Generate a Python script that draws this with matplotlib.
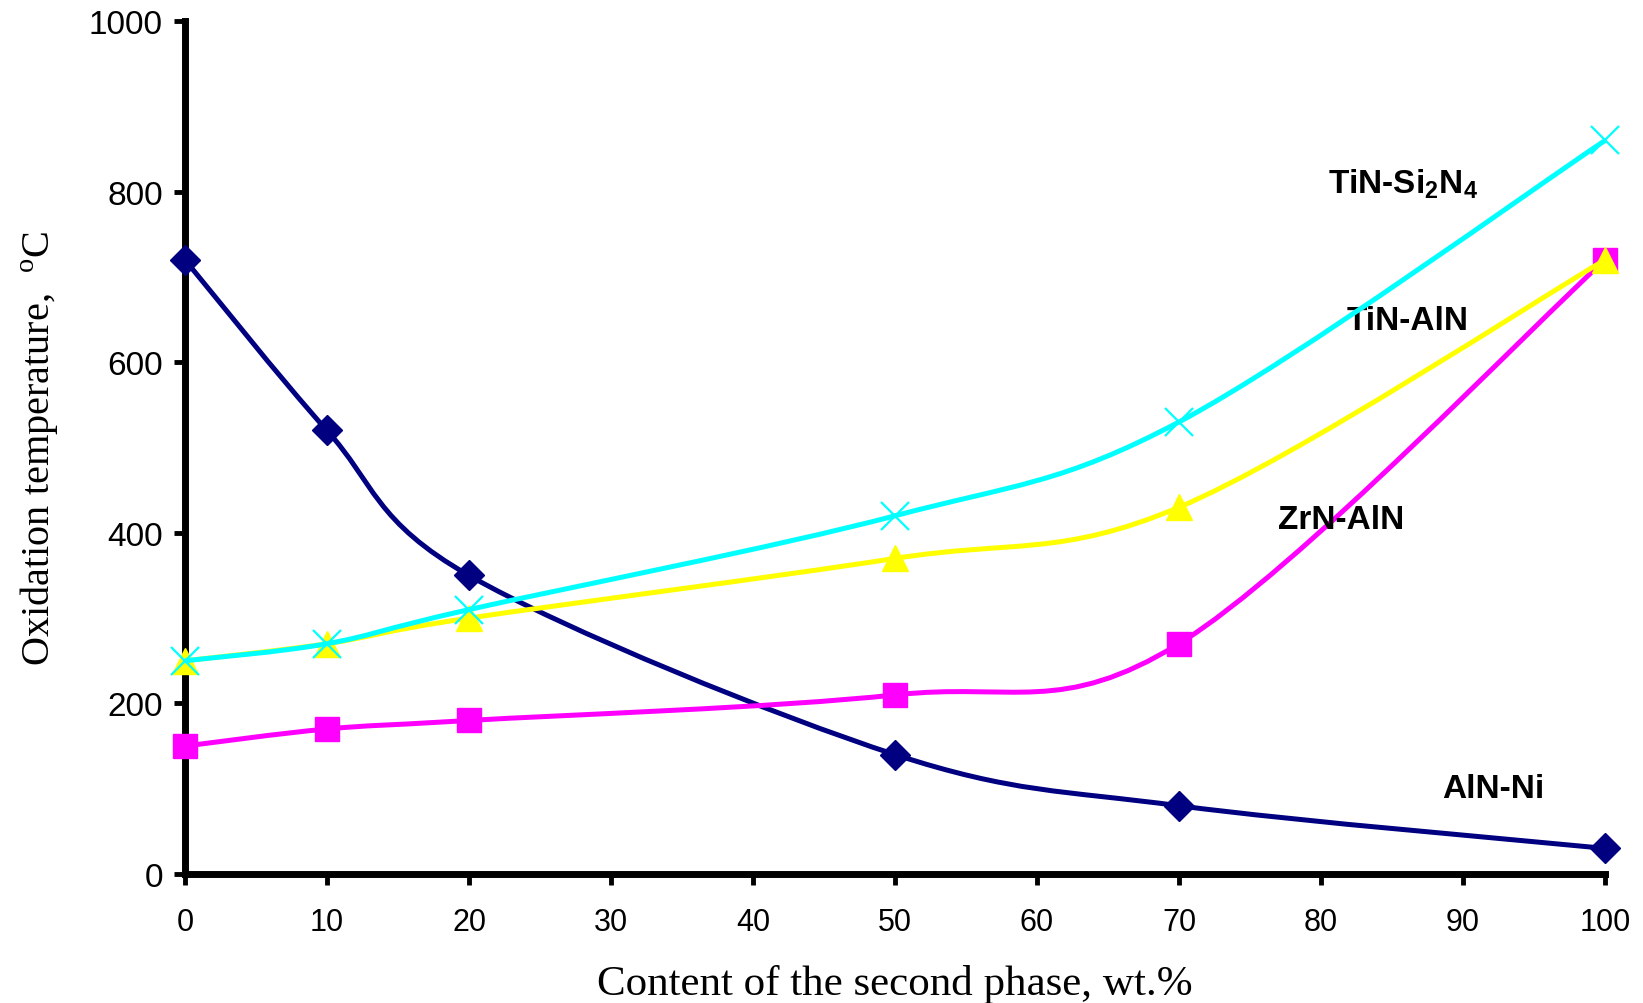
import numpy as np
import matplotlib.pyplot as plt
from matplotlib.path import Path
from matplotlib.patches import PathPatch

plt.rcParams['mathtext.fontset'] = 'custom'
plt.rcParams['mathtext.rm'] = 'Liberation Serif'
plt.rcParams['mathtext.bf'] = 'Liberation Sans:bold'

# content of the second phase, wt.%
content = [0, 10, 20, 50, 70, 100]

aln_ni = [720, 520, 350, 140, 80, 30]
tin_si3n4 = [250, 270, 310, 420, 530, 860]
tin_aln = [250, 270, 300, 370, 430, 720]
zrn_aln = [150, 170, 180, 210, 270, 720]

labels = ["AlN-Ni", r"TiN-Si$_\mathbf{2}$N$_\mathbf{4}$", "TiN-AlN", "ZrN-AlN"]
label_pos = [(92.1, 100), (85.8, 810), (86.1, 649), (81.4, 416)]


def smooth_path(xs, ys):
    # excel-style smoothed line: cubic bezier through the points
    p = np.column_stack([xs, ys]).astype(float)
    n = len(p)
    verts = [p[0]]
    codes = [Path.MOVETO]
    for i in range(n - 1):
        p0 = p[i - 1] if i > 0 else p[i]
        p3 = p[i + 2] if i + 2 < n else p[i + 1]
        c1 = p[i] + (p[i + 1] - p0) / 6.0
        c2 = p[i + 1] - (p3 - p[i]) / 6.0
        verts += [c1, c2, p[i + 1]]
        codes += [Path.CURVE4] * 3
    return Path(verts, codes)


fig = plt.figure(figsize=(16.43, 10.04), dpi=100)
ax = fig.add_axes([0.1126, 0.1285, 0.8643, 0.8495])

series = [
    (aln_ni, '#000080', 'D', 15),
    (zrn_aln, '#FF00FF', 's', 17),
    (tin_aln, '#FFFF00', '^', 19),
    (tin_si3n4, '#00FFFF', 'x', 20),
]
for k, (vals, col, mk, ms) in enumerate(series):
    patch = PathPatch(smooth_path(content, vals), facecolor='none', edgecolor=col,
                      lw=3.6, zorder=2 + k, clip_on=False)
    ax.add_patch(patch)
    if mk == 'x':
        ax.plot(content, vals, ls='none', marker=mk, ms=ms, mew=1.6, color=col,
                zorder=2.5 + k, clip_on=False)
    else:
        ax.plot(content, vals, ls='none', marker=mk, ms=ms, color=col, mec=col,
                zorder=2.5 + k, clip_on=False)

for lab, (lx, ly) in zip(labels, label_pos):
    ax.text(lx, ly, lab, ha='center', va='center', fontsize=24, fontweight='bold',
            family='Liberation Sans')

ax.set_xlim(0, 100)
ax.set_ylim(0, 1000)
ax.set_xticks(np.arange(0, 101, 10))
ax.set_yticks(np.arange(0, 1001, 200))

for s in ['top', 'right']:
    ax.spines[s].set_visible(False)
for s in ['left', 'bottom']:
    ax.spines[s].set_linewidth(5)
    ax.spines[s].set_zorder(1)

ax.tick_params(axis='both', direction='out', length=8, width=3.5)
ax.tick_params(axis='x', pad=16, labelsize=22)
ax.tick_params(axis='y', pad=8, labelsize=24)
for t in ax.get_xticklabels() + ax.get_yticklabels():
    t.set_family('Liberation Sans')

fig.text(0.5445, 0.019, "Content of the second phase, wt.%", ha='center', va='center',
         fontsize=31, family='Liberation Serif')
fig.text(0.0245, 0.554, r"Oxidation temperature,  $^{\mathrm{o}}$C", ha='center', va='center',
         rotation=90, fontsize=29, family='Liberation Serif')

fig.savefig("out.png", dpi=100)
